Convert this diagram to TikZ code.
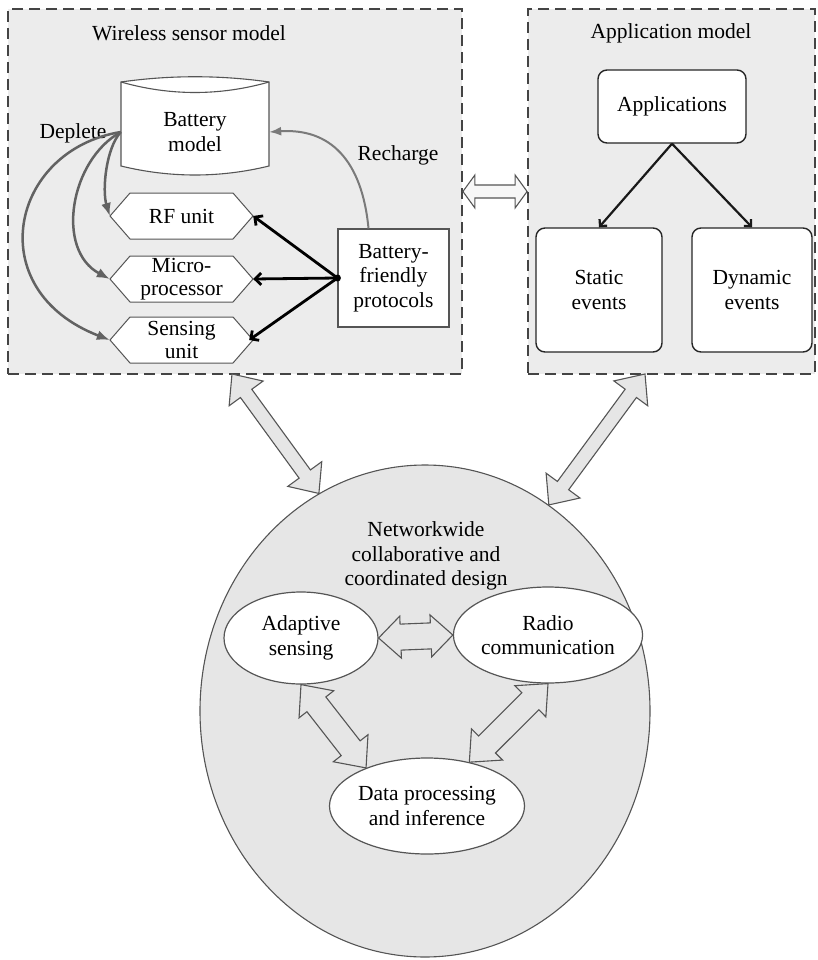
\documentclass[tikz,border=0pt]{standalone}
\usepackage{fontspec}
\setmainfont{Liberation Serif}
\usetikzlibrary{arrows.meta,calc,shapes.geometric}

\definecolor{panelfill}{HTML}{ECECEC}
\definecolor{panelline}{HTML}{444444}
\definecolor{ringfill}{HTML}{E6E6E6}
\definecolor{softline}{HTML}{555555}
\definecolor{flowgray}{HTML}{626262}

% hollow double-headed block arrow between two points
% #1 style, #2 start, #3 end, #4 shaft half width, #5 head half width, #6 head length
\newcommand{\blockarrow}[6][]{%
  \path (#2) coordinate (ba-s) (#3) coordinate (ba-e);
  \coordinate (ba-a) at ($(ba-s)!#6!(ba-e)$);
  \coordinate (ba-b) at ($(ba-e)!#6!(ba-s)$);
  \draw[#1] (ba-s) -- ($(ba-a)!#5!90:(ba-e)$) -- ($(ba-a)!#4!90:(ba-e)$)
    -- ($(ba-b)!#4!-90:(ba-s)$) -- ($(ba-b)!#5!-90:(ba-s)$) -- (ba-e)
    -- ($(ba-b)!#5!90:(ba-s)$) -- ($(ba-b)!#4!90:(ba-s)$)
    -- ($(ba-a)!#4!-90:(ba-e)$) -- ($(ba-a)!#5!-90:(ba-e)$) -- cycle;
}

% six-sided unit box drawn around a node centre
\newcommand{\hexunit}[1]{%
  \draw[softline, line width=1pt, fill=white]
    ($(#1)+(-71.5,0)$) -- ($(#1)+(-51.5,-23)$) -- ($(#1)+(51.5,-23)$)
    -- ($(#1)+(71.5,0)$) -- ($(#1)+(51.5,23)$) -- ($(#1)+(-51.5,23)$) -- cycle;
}

\tikzset{
  txt/.style={font=\fontsize{21.5}{24.5}\selectfont, align=center, inner sep=0pt},
  panel/.style={draw=panelline, fill=panelfill, line width=1.8pt,
    dash pattern=on 11pt off 6pt, inner sep=0pt},
  unitbox/.style={txt, minimum width=143pt, minimum height=46pt},
  rbox/.style={txt, draw=black!85, fill=white, line width=1.4pt, rounded corners=9pt},
  bubble/.style={txt, ellipse, draw=softline, fill=white, line width=1.2pt, inner sep=0pt},
  drain/.style={draw=flowgray, line width=2.5pt, -{Latex[length=13pt,width=10pt]}},
  charge/.style={draw=flowgray!85, line width=2pt, -{Latex[length=12pt,width=9pt]}},
  ctrl/.style={draw=black, line width=2.8pt, -{Straight Barb[length=6pt,width=12pt]}},
  tree/.style={draw=black!90, line width=2.2pt, -{Straight Barb[length=5pt,width=10pt]}},
  hollow/.style={draw=softline, fill=ringfill, line width=1.1pt, line join=miter},
}

\begin{document}
\begin{tikzpicture}[x=1pt, y=-1pt]
\useasboundingbox (0,0) rectangle (818,960);

% ---- panels ----
\node[panel, minimum width=454pt, minimum height=365pt] (wsm) at (235,191.5) {};
\node[panel, minimum width=287pt, minimum height=365pt] (apm) at (671.5,191.5) {};
\node[txt] (wsmtitle) at (189,33) {Wireless sensor model};
\node[txt] (apmtitle) at (671,33) {Application model};

% ---- battery cylinder ----
\draw[softline, line width=1.1pt, fill=white]
  (121,82) .. controls (170,75) and (220,75) .. (269,82) -- (269,166)
  .. controls (220,178) and (170,178) .. (121,166) -- cycle;
\draw[softline, line width=1.1pt] (121,82) .. controls (170,96) and (220,96) .. (269,82);
\node[txt, minimum width=148pt, minimum height=84pt] (bat) at (195,132) {Battery\\model};

% ---- hardware units ----
\coordinate (rfc) at (181.5,216);
\coordinate (mpc) at (181.5,279);
\coordinate (suc) at (181.5,340);
\hexunit{rfc}
\hexunit{mpc}
\hexunit{suc}
\node[unitbox] (rf) at (rfc) {RF unit};
\node[unitbox] (mp) at (mpc) {Micro-\\[-1pt]processor};
\node[unitbox] (su) at (suc) {Sensing\\[-1pt]unit};

\node[txt, draw=softline, fill=white, line width=1.1pt, minimum width=111pt,
      minimum height=98pt] (bfp) at (393.5,278) {Battery-\\friendly\\protocols};

\node[txt] (deplete) at (73,133) {Deplete};
\node[txt] (recharge) at (398,155) {Recharge};

% ---- energy flows ----
\draw[drain] (bat.west) .. controls (106,148) and (102,190) .. (rf.west);
\draw[drain] (bat.west) .. controls (70,160) and (55,250) .. (mp.west);
\draw[drain] (bat.west) .. controls (10,150) and (-20,290) .. (su.west);
\draw[charge] ([xshift=-25pt]bfp.north) .. controls (362,160) and (330,128) .. (bat.east);

\draw[ctrl] (bfp.west) -- (rf.east);
\draw[ctrl] (bfp.west) -- (mp.east);
\draw[ctrl] (bfp.west) -- ([xshift=-4pt]su.east);
\fill[black] (bfp.west) circle (3.5pt);

% ---- application model ----
\node[rbox, minimum width=148pt, minimum height=73pt] (app) at (672,106.5) {Applications};
\node[rbox, minimum width=126pt, minimum height=124pt] (static) at (599,290) {Static\\events};
\node[rbox, minimum width=120pt, minimum height=124pt] (dynamic) at (752,290) {Dynamic\\events};
\draw[tree] (app.south) -- (static.north);
\draw[tree] (app.south) -- (dynamic.north);

% ---- panel link ----
\blockarrow[hollow, fill=white!60!panelfill]{wsm.east}{apm.west}{6.5pt}{16.5pt}{12pt}

% ---- network-wide design ----
\node[ellipse, draw=softline, fill=ringfill, line width=1.1pt, minimum width=450pt,
      minimum height=492pt, inner sep=0pt] (net) at (425,711) {};
\node[txt] (nettitle) at (426,556) {Networkwide\\collaborative and\\coordinated design};

\node[bubble, minimum width=154pt, minimum height=92pt] (adapt) at (301,638) {Adaptive\\sensing};
\node[bubble, minimum width=154pt, minimum height=96pt] (radio) at (548,635) {Radio\\communication};
\node[bubble, minimum width=156pt, minimum height=96pt] (data) at (427,806) {Data processing\\and inference};

\coordinate (wsmfoot) at (232,374);
\coordinate (apmfoot) at (645,374);
\blockarrow[hollow, fill=ringfill]{wsmfoot}{net.116.8}{7pt}{21pt}{24pt}
\blockarrow[hollow, fill=ringfill]{apmfoot}{net.59.8}{7pt}{21pt}{24pt}

\blockarrow[hollow]{adapt.east}{radio.west}{13pt}{21pt}{22pt}
\blockarrow[hollow]{adapt.south}{data.148}{12pt}{22pt}{25pt}
\blockarrow[hollow]{radio.south}{data.46}{12pt}{22pt}{25pt}

\end{tikzpicture}
\end{document}
